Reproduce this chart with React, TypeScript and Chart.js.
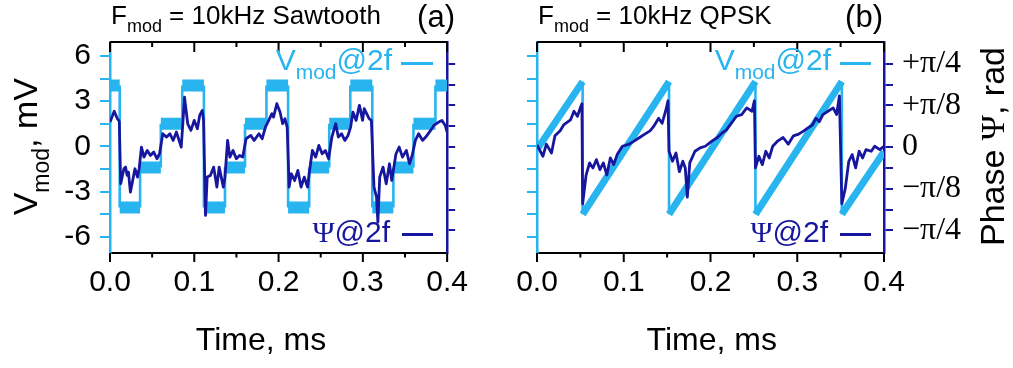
import React, { useEffect, useRef } from 'react';
import { Chart, registerables } from 'chart.js';

Chart.register(...registerables);

const SANS = 'Arial, "Liberation Sans", Helvetica, sans-serif';
const SERIF = '"Times New Roman", "Liberation Serif", serif';
const LIGHT = '#27b4ef';
const DARK = '#16169e';

// ---- axis data ----
const T_RANGE = [0, 0.4];
const V_RANGE = [-7.07, 6.93];
const PSI_RANGE = [-2.54, 2.52]; // units of pi/8
const X_MAJOR = [0, 0.1, 0.2, 0.3, 0.4];
const X_MINOR = [0.05, 0.15, 0.25, 0.35];
const V_TICKS = [-6, -4.5, -3, -1.5, 0, 1.5, 3, 4.5, 6];
const V_LABELED = [-6, -3, 0, 3, 6];
const PSI_TICKS = [-2, -1.5, -1, -0.5, 0, 0.5, 1, 1.5, 2];
const PSI_LABEL_VALUES = [-2, -1, 0, 1, 2];
const PSI_LABEL_TEXT = ['\u2212\u03c0/4', '\u2212\u03c0/8', '0', '+\u03c0/8', '+\u03c0/4'];

// ---- series: [time ms, value] ----
// (a) Sawtooth: V_mod@2f in mV
const A_VMOD = [
  [0, 4.05], [0.0115, 4.05], [0.0115, -4.05], [0.0357, -4.05], [0.0357, -1.4], [0.0603, -1.4],
  [0.0603, 1.5], [0.0857, 1.5], [0.0857, 4.05], [0.1114, 4.05], [0.1114, -4.05], [0.1364, -4.05],
  [0.1364, -1.4], [0.1602, -1.4], [0.1602, 1.5], [0.1856, 1.5], [0.1856, 4.05], [0.2113, 4.05],
  [0.2113, -4.05], [0.2363, -4.05], [0.2363, -1.4], [0.2601, -1.4], [0.2601, 1.5], [0.2851, 1.5],
  [0.2851, 4.05], [0.3112, 4.05], [0.3112, -4.05], [0.3362, -4.05], [0.3362, -1.4], [0.36, -1.4],
  [0.36, 1.5], [0.3861, 1.5], [0.3861, 4.05], [0.4, 4.05],
];
// (a) Sawtooth: Psi@2f in units of pi/8
const A_PSI = [
  [0, 0.6], [0.005, 0.86], [0.0088, 0.68], [0.011, 0.62], [0.0127, -0.88], [0.0165, -0.52], [0.0184, -0.48],
  [0.0204, -0.68], [0.0219, -0.6], [0.0242, -1.08], [0.0269, -0.8], [0.0296, -0.52], [0.0327, -0.72],
  [0.0346, -0.52], [0.0373, 0], [0.0403, -0.24], [0.0442, -0.08], [0.048, -0.2], [0.0519, -0.12],
  [0.0557, -0.28], [0.0588, -0.16], [0.0626, 0.32], [0.0672, 0.24], [0.0711, 0.32], [0.0749, 0.16],
  [0.0788, 0.36], [0.0845, 0], [0.0864, 0.56], [0.0884, 1.2], [0.0922, 0.56], [0.096, 0.4], [0.0999, 0.64],
  [0.1037, 0.44], [0.1064, 0.76], [0.1095, 0.88], [0.111, 0.64], [0.1133, -1.64], [0.1153, -0.72],
  [0.1191, -0.68], [0.123, -0.48], [0.1268, -0.96], [0.1295, -0.48], [0.1345, -0.96], [0.1364, -0.72],
  [0.1395, 0.16], [0.1422, -0.24], [0.146, -0.08], [0.1499, -0.28], [0.1537, -0.2], [0.1575, -0.24],
  [0.1614, 0.2], [0.1671, 0.28], [0.171, 0.16], [0.1767, 0.32], [0.1806, 0.2], [0.1844, 0.48],
  [0.1883, 0.64], [0.1921, 0.8], [0.194, 0.72], [0.1979, 1.04], [0.2017, 0.84], [0.2048, 0.56],
  [0.2075, 0.68], [0.2102, 0.48], [0.2125, -0.96], [0.2152, -0.64], [0.219, -0.8], [0.2229, -0.56],
  [0.2267, -0.96], [0.2305, -0.72], [0.2344, -0.96], [0.2363, -0.64], [0.2401, -0.08], [0.244, -0.24],
  [0.2478, 0.04], [0.2517, -0.16], [0.2555, -0.08], [0.2594, -0.28], [0.2632, 0.24], [0.2678, 0.56],
  [0.2709, 0.24], [0.2747, 0.32], [0.2786, 0.16], [0.2824, 0.28], [0.2855, 0.48], [0.2882, 0.84],
  [0.292, 0.64], [0.2959, 1.0], [0.2997, 0.64], [0.3016, 0.92], [0.3074, 0.68], [0.3101, 0.64],
  [0.3132, -0.96], [0.3162, -1.2], [0.3178, -1.8], [0.32, -0.72], [0.3239, -0.48], [0.3277, -0.88],
  [0.3316, -0.4], [0.3343, -0.8], [0.3362, -0.56], [0.3393, -0.16], [0.3431, 0], [0.347, -0.24],
  [0.3516, -0.08], [0.3554, -0.4], [0.3585, -0.2], [0.3623, 0.16], [0.3662, 0.32], [0.3708, 0.16],
  [0.3746, 0.24], [0.3804, 0.4], [0.3842, 0.52], [0.39, 0.6], [0.3939, 0.64], [0.3977, 0.52], [0.4, 0.36],
];
// (b) QPSK: V_mod@2f in mV
const B_VMOD = [
  [0, -0.2], [0.0526, 4.3], [0.0526, -4.5], [0.1522, 4.3], [0.1522, -4.5], [0.2518, 4.3],
  [0.2518, -4.5], [0.3514, 4.3], [0.3514, -4.5], [0.4, -0.35],
];
// (b) QPSK: Psi@2f in units of pi/8
const B_PSI = [
  [0, 0.05], [0.0068, -0.22], [0.0108, 0.07], [0.0167, -0.14], [0.0207, 0.27], [0.0267, 0.39],
  [0.0307, 0.53], [0.0386, 0.65], [0.0426, 0.86], [0.0466, 0.74], [0.0506, 0.98], [0.0518, 1.04],
  [0.0526, -1.36], [0.0566, -0.67], [0.0606, -0.38], [0.0645, -0.5], [0.0685, -0.3], [0.0725, -0.54],
  [0.0765, -0.38], [0.0805, -0.67], [0.0845, -0.26], [0.0884, -0.42], [0.0924, -0.18], [0.0984, 0.02],
  [0.1064, 0.07], [0.1123, 0.15], [0.1183, 0.23], [0.1243, 0.31], [0.1303, 0.39], [0.1343, 0.49],
  [0.1402, 0.69], [0.1442, 0.57], [0.1482, 0.86], [0.151, 1.11], [0.1522, -0.1], [0.1562, -0.34],
  [0.1602, -0.14], [0.1641, -0.59], [0.1681, -0.34], [0.1709, -0.5], [0.1733, -1.2], [0.1761, -0.38],
  [0.1821, -0.1], [0.188, -0.02], [0.194, 0.02], [0.202, 0.15], [0.208, 0.23], [0.2139, 0.35],
  [0.2179, 0.4], [0.2239, 0.57], [0.2299, 0.74], [0.2359, 0.78], [0.2418, 0.94], [0.2478, 0.86],
  [0.2506, 1.11], [0.2518, -0.5], [0.2558, -0.22], [0.2598, -0.42], [0.2637, -0.1], [0.2677, -0.26],
  [0.2717, 0.02], [0.2777, 0.15], [0.2837, 0.23], [0.2896, 0.07], [0.2956, 0.27], [0.3016, 0.31],
  [0.3076, 0.39], [0.3115, 0.45], [0.3175, 0.53], [0.3215, 0.69], [0.3255, 0.61], [0.3295, 0.78],
  [0.3354, 0.86], [0.3414, 0.94], [0.3454, 0.78], [0.3486, 1.23], [0.3514, -1.36], [0.3554, -0.99],
  [0.3594, -0.34], [0.3633, -0.18], [0.3673, -0.5], [0.3713, -0.1], [0.3753, -0.26], [0.3793, -0.06],
  [0.3853, -0.1], [0.3892, 0.02], [0.3952, -0.06], [0.4, 0.02],
];

// ---- texts ----
const X_TITLE = 'Time, ms';
const TITLE_A = ' = 10kHz Sawtooth';
const TITLE_B = ' = 10kHz QPSK';

type Part = { t: string; f: string; dy?: number };
const F = (size: number, fam = SANS) => `${size}px ${fam}`;

function partsWidth(ctx: CanvasRenderingContext2D, parts: Part[]) {
  let w = 0;
  for (const p of parts) {
    ctx.font = p.f;
    w += ctx.measureText(p.t).width;
  }
  return w;
}

function drawParts(
  ctx: CanvasRenderingContext2D,
  parts: Part[],
  x: number,
  y: number,
  align: 'left' | 'right' | 'center',
  color: string,
  rotate = false
) {
  ctx.save();
  ctx.translate(x, y);
  if (rotate) ctx.rotate(-Math.PI / 2);
  const w = partsWidth(ctx, parts);
  let cx = align === 'left' ? 0 : align === 'right' ? -w : -w / 2;
  ctx.fillStyle = color;
  ctx.textAlign = 'left';
  ctx.textBaseline = 'alphabetic';
  for (const p of parts) {
    ctx.font = p.f;
    ctx.fillText(p.t, cx, p.dy || 0);
    cx += ctx.measureText(p.t).width;
  }
  ctx.restore();
}

const vmodLegend: Part[] = [
  { t: 'V', f: F(30) },
  { t: 'mod', f: F(21), dy: 9 },
  { t: '@2f', f: F(30) },
];
const psiLegend: Part[] = [
  { t: '\u03a8', f: F(30, SERIF) },
  { t: '@2f', f: F(30) },
];
const leftTitle: Part[] = [
  { t: 'V', f: F(34) },
  { t: 'mod', f: F(23), dy: 12 },
  { t: ', mV', f: F(34) },
];
const rightTitle: Part[] = [
  { t: 'Phase ', f: F(34) },
  { t: '\u03a8', f: F(34, SERIF) },
  { t: ', rad', f: F(34) },
];
const titleParts = (rest: string): Part[] => [
  { t: 'F', f: F(26) },
  { t: 'mod', f: F(18), dy: 8 },
  { t: rest, f: F(26) },
];

type Panel = {
  width: number;
  yWidth: number;
  y2Width: number;
  y2TickLen: number;
  vmod: number[][];
  psi: number[][];
  band: number;
  leftLabels: boolean;
  rightLabels: boolean;
  title: { x: number; y: number; parts: Part[] };
  tag: { t: string; x: number; y: number };
  legV: { x: number; y: number; lx0: number; lx1: number; ly: number };
  legP: { x: number; y: number; lx0: number; lx1: number; ly: number };
  xTitle: { x: number; y: number };
  lTitle: { x: number; y: number } | null;
  rTitle: { x: number; y: number } | null;
};

const PANEL_A: Panel = {
  width: 480,
  yWidth: 110,
  y2Width: 23,
  y2TickLen: 8,
  vmod: A_VMOD,
  psi: A_PSI,
  band: 12,
  leftLabels: true,
  rightLabels: false,
  title: { x: 111, y: 23.5, parts: titleParts(TITLE_A) },
  tag: { t: '(a)', x: 455, y: 27 },
  legV: { x: 392, y: 70, lx0: 401, lx1: 433, ly: 63.5 },
  legP: { x: 390, y: 242, lx0: 402, lx1: 433, ly: 234.5 },
  xTitle: { x: 261, y: 350 },
  lTitle: { x: 37, y: 146.7 },
  rTitle: null,
};

const PANEL_B: Panel = {
  width: 533,
  yWidth: 57,
  y2Width: 129,
  y2TickLen: 9,
  vmod: B_VMOD,
  psi: B_PSI,
  band: 7,
  leftLabels: false,
  rightLabels: true,
  title: { x: 58, y: 23.5, parts: titleParts(TITLE_B) },
  tag: { t: '(b)', x: 403, y: 27 },
  legV: { x: 351, y: 70, lx0: 360, lx1: 391, ly: 63.5 },
  legP: { x: 348, y: 242, lx0: 360, lx1: 391, ly: 234.5 },
  xTitle: { x: 231.7, y: 350 },
  lTitle: null,
  rTitle: { x: 524, y: 146.5 },
};

function makeChart(canvas: HTMLCanvasElement, p: Panel) {
  const toXY = (arr: number[][]) => arr.map(([x, y]) => ({ x, y }));

  const deco = {
    id: 'deco',
    afterDraw(chart: any) {
      const { ctx, chartArea: a } = chart;
      const xs = chart.scales.x;
      ctx.save();
      ctx.strokeStyle = '#000';
      ctx.lineWidth = 2;
      ctx.beginPath();
      ctx.moveTo(a.left, a.top);
      ctx.lineTo(a.right, a.top);
      ctx.stroke();
      const tick = (vals: number[], top: number, bot: number) => {
        for (const v of vals) {
          const px = xs.getPixelForValue(v);
          ctx.beginPath();
          ctx.moveTo(px, a.top);
          ctx.lineTo(px, a.top + top);
          ctx.moveTo(px, a.bottom);
          ctx.lineTo(px, a.bottom + bot);
          ctx.stroke();
        }
      };
      tick(X_MAJOR, 10, 9);
      tick(X_MINOR, 5, 4.5);

      // legend lines
      ctx.lineWidth = 3;
      ctx.strokeStyle = LIGHT;
      ctx.beginPath();
      ctx.moveTo(p.legV.lx0, p.legV.ly);
      ctx.lineTo(p.legV.lx1, p.legV.ly);
      ctx.stroke();
      ctx.strokeStyle = DARK;
      ctx.beginPath();
      ctx.moveTo(p.legP.lx0, p.legP.ly);
      ctx.lineTo(p.legP.lx1, p.legP.ly);
      ctx.stroke();
      ctx.restore();

      drawParts(ctx, vmodLegend, p.legV.x, p.legV.y, 'right', LIGHT);
      drawParts(ctx, psiLegend, p.legP.x, p.legP.y, 'right', DARK);
      drawParts(ctx, p.title.parts, p.title.x, p.title.y, 'left', '#000');
      drawParts(ctx, [{ t: p.tag.t, f: F(31) }], p.tag.x, p.tag.y, 'right', '#000');
      drawParts(ctx, [{ t: X_TITLE, f: F(32) }], p.xTitle.x, p.xTitle.y, 'center', '#000');
      if (p.lTitle) drawParts(ctx, leftTitle, p.lTitle.x, p.lTitle.y, 'center', '#000', true);
      if (p.rTitle) drawParts(ctx, rightTitle, p.rTitle.x, p.rTitle.y, 'center', '#000', true);
    },
  };

  return new Chart(canvas, {
    type: 'line',
    data: {
      datasets: [
        {
          label: 'Psi@2f',
          data: toXY(p.psi),
          yAxisID: 'y2',
          borderColor: DARK,
          borderWidth: 2.8,
          borderJoinStyle: 'round',
          pointRadius: 0,
          tension: 0,
        },
        {
          label: 'Vmod@2f',
          data: toXY(p.vmod),
          yAxisID: 'y',
          borderColor: LIGHT,
          borderWidth: p.band,
          borderJoinStyle: 'bevel',
          pointRadius: 0,
          tension: 0,
          segment: {
            borderWidth: (c: any) => (c.p0.parsed.x === c.p1.parsed.x ? 2.6 : p.band),
          },
        },
      ],
    } as any,
    options: {
      responsive: false,
      animation: false,
      devicePixelRatio: 1,
      events: [],
      layout: { padding: { top: 42, left: 0, right: 0, bottom: 0 } },
      plugins: {
        legend: { display: false },
        tooltip: { enabled: false },
        title: { display: false },
      },
      scales: {
        x: {
          type: 'linear',
          position: 'bottom',
          min: T_RANGE[0],
          max: T_RANGE[1],
          afterBuildTicks: (s: any) => {
            s.ticks = X_MAJOR.map((v) => ({ value: v }));
          },
          afterFit: (s: any) => {
            s.height = 115;
          },
          ticks: {
            autoSkip: false,
            maxRotation: 0,
            padding: 12,
            color: '#000',
            font: { family: SANS, size: 30 },
            callback: (v: any) => Number(v).toFixed(1),
          },
          grid: { display: false, drawTicks: false },
          border: { display: true, color: '#000', width: 2 },
        },
        y: {
          type: 'linear',
          position: 'left',
          min: V_RANGE[0],
          max: V_RANGE[1],
          afterBuildTicks: (s: any) => {
            s.ticks = V_TICKS.map((v) => ({ value: v }));
          },
          afterFit: (s: any) => {
            s.width = p.yWidth;
          },
          ticks: {
            autoSkip: false,
            padding: 9,
            color: '#000',
            font: { family: SANS, size: 30 },
            callback: (v: any) => (p.leftLabels && V_LABELED.includes(v) ? String(v) : ''),
          },
          grid: { display: true, drawOnChartArea: false, drawTicks: true, tickLength: 10, color: LIGHT, lineWidth: 2 },
          border: { display: true, color: LIGHT, width: 2.5 },
        },
        y2: {
          type: 'linear',
          position: 'right',
          min: PSI_RANGE[0],
          max: PSI_RANGE[1],
          afterBuildTicks: (s: any) => {
            s.ticks = PSI_TICKS.map((v) => ({ value: v }));
          },
          afterFit: (s: any) => {
            s.width = p.y2Width;
          },
          ticks: {
            autoSkip: false,
            padding: 9,
            color: '#000',
            font: { family: SERIF, size: 32 },
            callback: (v: any) => {
              if (!p.rightLabels) return '';
              const i = PSI_LABEL_VALUES.indexOf(v);
              return i >= 0 ? PSI_LABEL_TEXT[i] : '';
            },
          },
          grid: {
            display: true,
            drawOnChartArea: false,
            drawTicks: true,
            tickLength: p.y2TickLen,
            color: DARK,
            lineWidth: 2,
          },
          border: { display: true, color: DARK, width: 2.5 },
        },
      },
    } as any,
    plugins: [deco],
  });
}

export default function App() {
  const refA = useRef<HTMLCanvasElement>(null);
  const refB = useRef<HTMLCanvasElement>(null);

  useEffect(() => {
    const a = makeChart(refA.current as HTMLCanvasElement, PANEL_A);
    const b = makeChart(refB.current as HTMLCanvasElement, PANEL_B);
    return () => {
      a.destroy();
      b.destroy();
    };
  }, []);

  return (
    <div style={{ position: 'fixed', left: 0, top: 0, width: 1013, height: 368, background: '#fff' }}>
      <canvas ref={refA} width={480} height={368} style={{ position: 'absolute', left: 0, top: 0 }} />
      <canvas ref={refB} width={533} height={368} style={{ position: 'absolute', left: 480, top: 0 }} />
    </div>
  );
}
